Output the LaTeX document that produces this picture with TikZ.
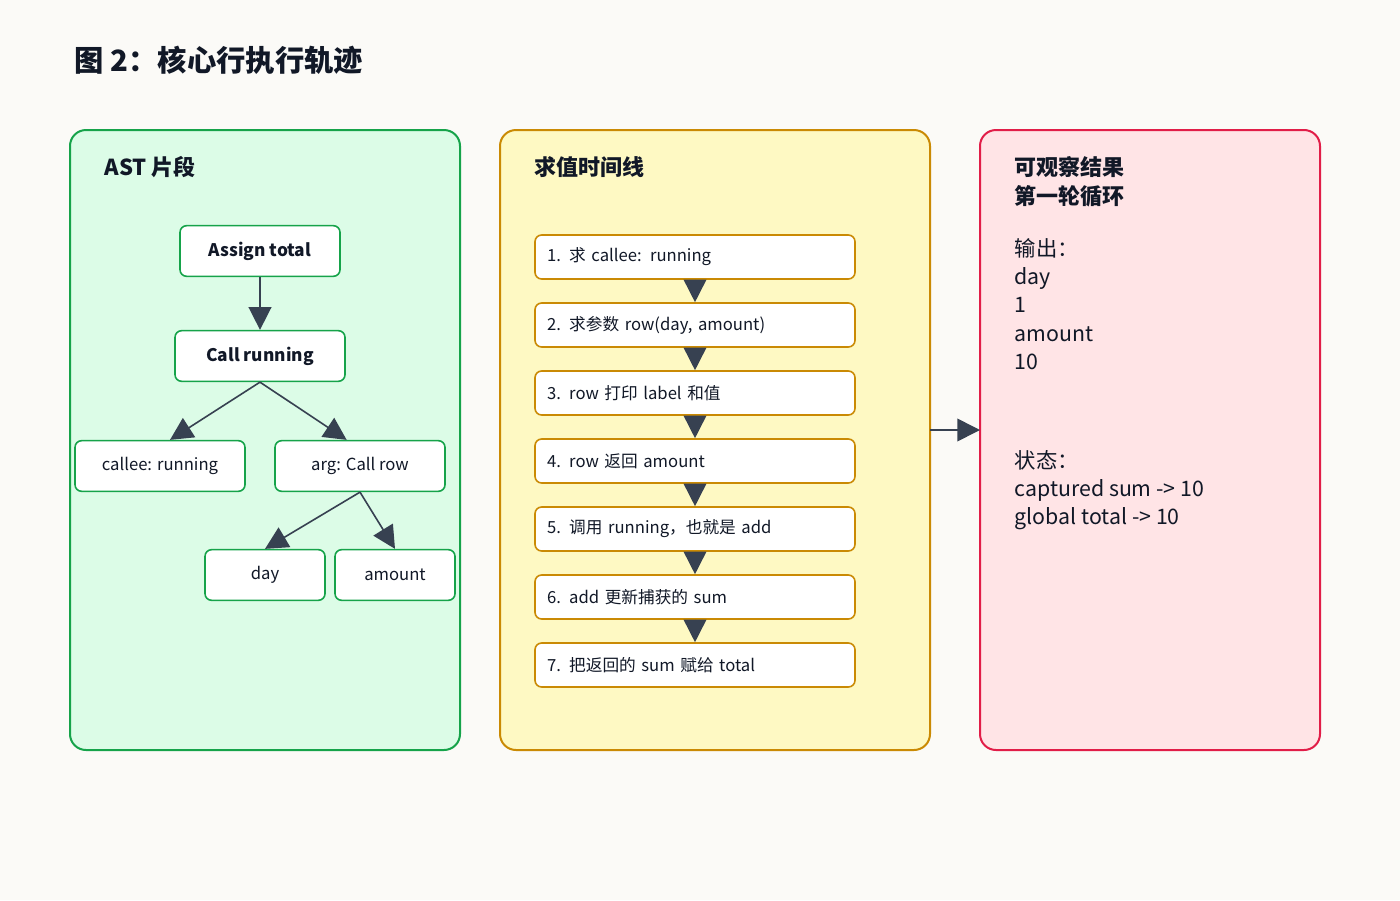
\documentclass[tikz,border=0pt]{standalone}
\usepackage{fontspec}
\setmainfont{Noto Sans CJK SC}
\usetikzlibrary{arrows.meta}
\definecolor{bgc}{HTML}{FBFAF7}
\definecolor{greenfill}{HTML}{DCFCE7}
\definecolor{greenline}{HTML}{16A34A}
\definecolor{yellowfill}{HTML}{FEF9C3}
\definecolor{yellowline}{HTML}{CA8A04}
\definecolor{redfill}{HTML}{FFE4E6}
\definecolor{redline}{HTML}{E11D48}
\definecolor{inkc}{HTML}{111827}
\definecolor{arrowc}{HTML}{374151}
\tikzset{
  panel/.style={draw=#1line, fill=#1fill, line width=1.5pt, rounded corners=12pt},
  astnode/.style={draw=greenline, fill=white, line width=1.2pt, rounded corners=5pt,
    minimum width=#1*0.75pt, minimum height=38pt, font=\fontsize{12.5}{14}\selectfont, text=inkc},
  stepnode/.style={draw=yellowline, fill=white, line width=1.2pt, rounded corners=5pt,
    minimum width=240pt, minimum height=33pt, text width=222pt, align=left,
    font=\fontsize{12.5}{14}\selectfont, text=inkc},
  flow/.style={draw=arrowc, line width=1.2pt, -{Triangle[length=17pt,width=17pt]}},
  ptitle/.style={anchor=west, font=\fontsize{16.5}{22}\selectfont\bfseries, text=inkc},
  ptext/.style={anchor=west, font=\fontsize{16}{21}\selectfont, text=inkc},
}
\begin{document}
\begin{tikzpicture}[x=0.75pt,y=-0.75pt]
  \fill[bgc] (0,0) rectangle (1400,900);
  \useasboundingbox (0,0) rectangle (1400,900);

  \node[anchor=west, font=\fontsize{22}{26}\selectfont\bfseries, text=inkc] (title) at (70,60) {图 2：核心行执行轨迹};

  % panels
  \draw[panel=green] (70,130) rectangle (460,750);
  \draw[panel=yellow] (500,130) rectangle (930,750);
  \draw[panel=red] (980,130) rectangle (1320,750);
  \coordinate (p2e) at (930,430);
  \coordinate (p3w) at (980,430);

  % AST
  \node[ptitle] (asttitle) at (100,167) {AST 片段};
  \node[astnode=160, font=\fontsize{13}{15}\selectfont\bfseries] (assign) at (260,251) {Assign total};
  \node[astnode=170, font=\fontsize{13}{15}\selectfont\bfseries] (call) at (260,356) {Call running};
  \node[astnode=170] (callee) at (160,466) {callee: running};
  \node[astnode=170] (arg) at (360,466) {arg: Call row};
  \node[astnode=120] (day) at (265,575) {day};
  \node[astnode=120] (amount) at (395,575) {amount};
  \draw[flow] (assign.south) -- (call.north);
  \draw[flow] (call.south) -- ([xshift=7.5pt]callee.north);
  \draw[flow] (call.south) -- ([xshift=-10pt]arg.north);
  \draw[flow] (arg.south) -- (day.north);
  \draw[flow] (arg.south) -- (amount.north);

  % timeline
  \node[ptitle] (evaltitle) at (530,167) {求值时间线};
  \node[stepnode] (s1) at (695,257) {1. 求 callee: running};
  \node[stepnode] (s2) at (695,325) {2. 求参数 row(day, amount)};
  \node[stepnode] (s3) at (695,393) {3. row 打印 label 和值};
  \node[stepnode] (s4) at (695,461) {4. row 返回 amount};
  \node[stepnode] (s5) at (695,529) {5. 调用 running，也就是 add};
  \node[stepnode] (s6) at (695,597) {6. add 更新捕获的 sum};
  \node[stepnode] (s7) at (695,665) {7. 把返回的 sum 赋给 total};
  \foreach \a/\b in {s1/s2,s2/s3,s3/s4,s4/s5,s5/s6,s6/s7}
    \draw[flow] (\a.south) -- (\b.north);
  \draw[flow] (p2e) -- (p3w);

  % observations
  \node[ptitle, align=left] (obstitle) at (1010,182) {可观察结果\\第一轮循环};
  \node[ptext, align=left, font=\fontsize{16}{21.2}\selectfont] (output) at (1010,304) {输出：\\day\\1\\amount\\10};
  \node[ptext, align=left, font=\fontsize{16}{21.2}\selectfont] (state) at (1010,490) {状态：\\captured sum -> 10\\global total -> 10};
\end{tikzpicture}
\end{document}
